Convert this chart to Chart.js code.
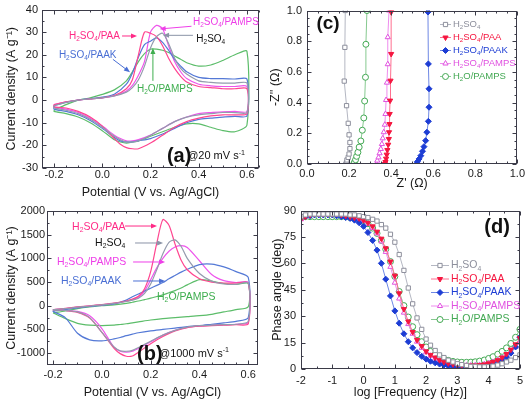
<!DOCTYPE html>
<html>
<head>
<meta charset="utf-8">
<script src="https://cdn.jsdelivr.net/npm/chart.js@4.4.0/dist/chart.umd.min.js"></script>
<style>
  body { margin: 0; background: #fff; }
  canvas { position: absolute; }
</style>
</head>
<body>
<canvas id="cvSlow" width="265" height="200" style="left:0;top:0"></canvas>
<canvas id="nyquist" width="265" height="200" style="left:264px;top:0"></canvas>
<canvas id="cvFast" width="265" height="201" style="left:0;top:200px"></canvas>
<canvas id="bode" width="265" height="201" style="left:264px;top:200px"></canvas>
<script>
// electrolytes, in legend order
const series = ['H_2SO_4', 'H_2SO_4/PAA', 'H_2SO_4/PAAK', 'H_2SO_4/PAMPS', 'H_2O/PAMPS'];
const cvColors = ['#939bad', '#ff4690', '#5479d6', '#ee55ec', '#5cbd6a'];
const markColors = ['#8d8f9c', '#f5163f', '#1d3dd4', '#e052e0', '#43a853'];
const lineColors = ['#b4b7c2', '#ff6f8f', '#6f88e4', '#ee8cee', '#86c98f'];
const markStyles = ['rect', 'triangle', 'rectRot', 'triangle', 'circle'];
const markRotation = [0, 180, 0, 0, 0];
const markFilled = [false, true, true, false, false];

// CV potentials (V vs Ag/AgCl): anodic sweep, then cathodic sweep
const fwdV = [-0.2, -0.15, -0.1, -0.05, 0, 0.05, 0.1, 0.125, 0.15, 0.175, 0.2, 0.225, 0.25, 0.275, 0.3, 0.325, 0.35, 0.4, 0.45, 0.5, 0.55, 0.6];
const revV = [0.6, 0.55, 0.5, 0.45, 0.4, 0.35, 0.3, 0.25, 0.2, 0.15, 0.125, 0.1, 0.075, 0.05, 0, -0.05, -0.1, -0.15, -0.2];

// (a) 20 mV/s, A/g
const aFwdH2so4 = [-2.5, -1, 0, 0.5, 1, 1.8, 3.5, 5.5, 9, 15, 23, 28, 29.5, 25, 18.5, 14, 11.5, 8.5, 7.8, 7.5, 7.5, 7.5];
const aFwdPaa   = [-2, -0.8, 0, 0.5, 1, 2, 5, 9, 20, 30, 29.5, 28, 24, 18.5, 14, 10.5, 8, 6, 5.5, 5, 5, 5];
const aFwdPaak  = [-2.5, -1, 0, 0.6, 1.3, 2.6, 7, 12, 19, 24.5, 26, 27.5, 25.5, 22, 18, 15, 12.5, 10, 9.5, 9.5, 9.3, 9.3];
const aFwdPamps = [-2, -0.8, 0, 0.5, 1, 1.8, 4, 6.5, 11, 17, 30, 33, 31.5, 24, 17, 12.5, 9.5, 7, 6.3, 6, 6, 6];
const aFwdH2o   = [-4.5, -2, 0, 1, 2.5, 4.5, 8.5, 12.5, 17, 20.5, 22.5, 22.5, 22, 21, 19.5, 18, 16.5, 15, 15.5, 17.5, 20, 21.5];
const aRevH2so4 = [-5.5, -5.5, -5.5, -6, -6.5, -7.5, -9.5, -12.5, -15.5, -18, -18.5, -18.5, -17.5, -16, -12, -8.5, -6, -4.5, -3.5];
const aRevPaa   = [-6, -6.5, -6.5, -7, -8, -9.5, -12, -15.5, -19, -21.5, -21.5, -21, -19.5, -17, -11.5, -7.5, -5, -3.5, -3];
const aRevPaak  = [-7, -7.2, -7.5, -8, -8.5, -10, -12.5, -15, -17, -18, -18.5, -18.5, -18, -16.5, -12.5, -9, -6.5, -5, -4];
const aRevPamps = [-5, -5, -5.2, -5.5, -6, -7.5, -9.5, -12.5, -15.5, -17.5, -18, -18, -17, -15.5, -11.5, -8, -5.5, -4, -3];
const aRevH2o   = [-11, -14, -13.5, -12, -10.5, -10.5, -12, -14, -16, -18, -18.5, -19, -18.5, -17.5, -13.5, -10, -7.5, -6, -5];

// (b) 1000 mV/s, A/g
const bFwdH2so4 = [-80, -60, -30, -5, 20, 50, 90, 120, 160, 260, 460, 760, 1100, 1340, 1390, 1250, 1000, 680, 520, 460, 450, 480];
const bFwdPaa   = [-80, -55, -25, 0, 25, 55, 100, 140, 200, 360, 720, 1320, 1820, 1700, 1300, 960, 760, 570, 500, 480, 480, 480];
const bFwdPaak  = [-110, -80, -45, -15, 10, 40, 120, 190, 250, 310, 370, 430, 490, 570, 640, 710, 770, 870, 880, 820, 720, 600];
const bFwdPamps = [-80, -60, -30, -5, 20, 50, 95, 130, 180, 310, 550, 800, 1000, 1150, 1240, 1270, 1230, 950, 660, 530, 490, 490];
const bFwdH2o   = [-150, -110, -60, -25, 0, 20, 50, 75, 100, 130, 160, 195, 230, 275, 320, 375, 440, 550, 520, 470, 450, 470];
const bRevH2so4 = [-330, -390, -400, -410, -420, -450, -520, -620, -750, -880, -940, -960, -950, -870, -560, -250, -130, -100, -90];
const bRevPaa   = [-380, -400, -410, -420, -430, -460, -530, -650, -800, -980, -1060, -1065, -1010, -900, -560, -260, -140, -100, -80];
const bRevPaak  = [-250, -330, -360, -390, -420, -440, -470, -500, -530, -570, -600, -630, -670, -700, -740, -720, -580, -250, -120];
const bRevPamps = [-350, -390, -400, -410, -425, -455, -520, -620, -760, -900, -960, -980, -960, -880, -480, -210, -120, -100, -90];
const bRevH2o   = [-20, -80, -130, -180, -210, -230, -250, -270, -300, -340, -360, -380, -395, -410, -420, -410, -370, -270, -150];

// (c) Nyquist, ohm
const cZreH2so4 = [0.185, 0.188, 0.19, 0.196, 0.2, 0.204, 0.204, 0.2, 0.196, 0.188, 0.177, 0.18, 0.182];
const cZimH2so4 = [0, 0.01, 0.026, 0.043, 0.065, 0.1, 0.14, 0.19, 0.265, 0.38, 0.54, 0.76, 1.0];
const cZrePaa   = [0.37, 0.373, 0.376, 0.379, 0.382, 0.386, 0.389, 0.39, 0.392, 0.393, 0.395, 0.397, 0.4, 0.4];
const cZimPaa   = [0, 0.013, 0.035, 0.061, 0.091, 0.126, 0.163, 0.207, 0.26, 0.326, 0.413, 0.543, 0.717, 0.99];
const cZrePaak  = [0.52, 0.525, 0.533, 0.541, 0.549, 0.556, 0.564, 0.57, 0.577, 0.58, 0.58, 0.577, 0.575];
const cZimPaak  = [0, 0.015, 0.033, 0.054, 0.083, 0.113, 0.152, 0.207, 0.278, 0.37, 0.49, 0.652, 0.99];
const cZrePamps = [0.33, 0.334, 0.34, 0.345, 0.351, 0.356, 0.36, 0.365, 0.37, 0.373, 0.376, 0.38, 0.384, 0.384, 0.39];
const cZimPamps = [0, 0.022, 0.043, 0.07, 0.098, 0.13, 0.167, 0.207, 0.256, 0.326, 0.417, 0.53, 0.65, 0.826, 1.0];
const cZreH2o   = [0.222, 0.226, 0.231, 0.236, 0.242, 0.248, 0.256, 0.263, 0.27, 0.274, 0.278, 0.28, 0.285];
const cZimH2o   = [0, 0.012, 0.028, 0.05, 0.076, 0.11, 0.15, 0.22, 0.3, 0.41, 0.565, 0.78, 1.0];

// (d) Bode phase, deg
const logF = [-2.00, -1.86, -1.71, -1.57, -1.43, -1.29, -1.14, -1.00, -0.86, -0.71, -0.57, -0.43, -0.29, -0.14,
  0.00, 0.14, 0.29, 0.43, 0.57, 0.71, 0.86, 1.00, 1.14, 1.29, 1.43, 1.57, 1.71, 1.86,
  2.00, 2.14, 2.29, 2.43, 2.57, 2.71, 2.86, 3.00, 3.14, 3.29, 3.43, 3.57, 3.71, 3.86,
  4.00, 4.14, 4.29, 4.43, 4.57, 4.71, 4.86, 5.00];
const phH2so4 = [86.5, 87.5, 88, 88, 88, 88, 88, 88, 88, 88, 88, 87.5, 87.5, 87,
  86.5, 86, 85, 84, 82, 80, 76.5, 72, 65, 56, 46, 37, 29, 22.5,
  17, 13.5, 10.5, 8, 6.5, 5, 4, 3, 2.5, 2, 1.5, 1.5, 1.2, 1.2,
  1.3, 1.6, 2.2, 3, 4, 5, 6.5, 8];
const phPaa = [85, 86.5, 87.5, 88, 88, 88, 88, 88, 88, 87.5, 87, 86.5, 86, 85.5,
  84.5, 83, 81, 78, 74, 68.5, 61, 53, 43, 34, 27, 21, 16.5, 13,
  10, 8, 6.5, 5, 4, 3.2, 2.7, 2.3, 2, 2, 2, 2, 2.2, 2.6,
  3.2, 4, 5, 6.5, 8.5, 11, 14, 17.5];
const phPaak = [86, 86.5, 87, 87.5, 87.5, 87.5, 87.5, 87.5, 87, 86.5, 86, 85.5, 84.5, 83,
  81, 77.5, 73, 67.5, 60, 51, 41.5, 33, 26, 20, 15.5, 12, 9.3, 7.2,
  5.6, 4.4, 3.5, 2.8, 2.2, 1.7, 1.3, 1, 0.8, 0.7, 0.7, 0.8, 1, 1.4,
  2, 2.8, 3.8, 5, 6.7, 9, 12.5, 18];
const phPamps = [85, 86.5, 87.5, 88, 88, 88, 88, 88, 88, 87.5, 87, 86.5, 86, 85,
  84, 82.5, 80, 77, 72.5, 66.5, 58, 49, 40, 32, 25.5, 20, 15.5, 12,
  9.5, 7.5, 6, 4.7, 3.8, 3, 2.5, 2.2, 2, 2, 2, 2.1, 2.3, 2.7,
  3.3, 4, 5, 6.3, 8, 10, 12.5, 15];
const phH2o = [86, 86.5, 86.5, 86.5, 86.5, 86.5, 86.5, 86.5, 86.5, 86.5, 86.5, 86, 85.5, 85,
  84, 82.5, 80, 77, 73, 68, 61, 52.5, 44, 36, 29.5, 24, 19.5, 15.5,
  12.5, 10, 8.2, 6.8, 5.7, 4.9, 4.3, 4, 3.8, 3.8, 3.9, 4.1, 4.5, 5.1,
  6, 7, 8.4, 10, 12, 14.5, 18, 22.5];

// tick labels
const cvTicksX = [-0.2, 0, 0.2, 0.4, 0.6];
const aTicksY = [-30, -20, -10, 0, 10, 20, 30, 40];
const bTicksY = [-1000, -500, 0, 500, 1000, 1500, 2000];
const cTicks = [0, 0.2, 0.4, 0.6, 0.8, 1.0];
const dTicksX = [-2, -1, 0, 1, 2, 3, 4, 5];
const dTicksY = [0, 15, 30, 45, 60, 75, 90];

const FONT = '"Liberation Sans", Arial, sans-serif';
Chart.defaults.font.family = FONT;
Chart.defaults.color = '#1a1a1a';
Chart.defaults.animation = false;
Chart.defaults.events = [];
Chart.defaults.plugins.legend.display = false;
Chart.defaults.plugins.tooltip.enabled = false;

function steps(from, to, step) {
  const out = [];
  for (let v = from; v <= to + 1e-9; v += step) out.push(+v.toFixed(4));
  return out;
}

function richText(ctx, str, x, y, size, color, weight) {
  const re = /_(.)|\^\{([^}]*)\}|([^_^]+)/g;
  let m;
  ctx.fillStyle = color;
  ctx.textBaseline = 'middle';
  ctx.textAlign = 'left';
  while ((m = re.exec(str)) !== null) {
    const shift = m[1] !== undefined ? 1 : (m[2] !== undefined ? -1 : 0);
    const text = m[1] || m[2] || m[3];
    const s = shift ? size * 0.65 : size;
    ctx.font = (weight || '') + ' ' + s + 'px ' + FONT;
    ctx.fillText(text, x, y + shift * size * 0.32);
    x += ctx.measureText(text).width;
  }
}

function arrow(ctx, x1, y1, x2, y2, color) {
  const ang = Math.atan2(y2 - y1, x2 - x1), c = Math.cos(ang), s = Math.sin(ang);
  ctx.strokeStyle = color;
  ctx.fillStyle = color;
  ctx.lineWidth = 1;
  ctx.beginPath();
  ctx.moveTo(x1, y1);
  ctx.lineTo(x2 - 4 * c, y2 - 4 * s);
  ctx.stroke();
  ctx.beginPath();
  ctx.moveTo(x2, y2);
  ctx.lineTo(x2 - 6 * c + 2.5 * s, y2 - 6 * s - 2.5 * c);
  ctx.lineTo(x2 - 6 * c - 2.5 * s, y2 - 6 * s + 2.5 * c);
  ctx.closePath();
  ctx.fill();
}

// Origin-style frame: box, inward ticks on all sides, notes and an inner legend
const originFrame = {
  id: 'originFrame',
  afterDraw(chart, args, o) {
    const ctx = chart.ctx, a = chart.chartArea;
    const sx = chart.scales.x, sy = chart.scales.y;
    ctx.save();
    ctx.strokeStyle = '#3b3b48';
    ctx.lineWidth = 1;
    const L = Math.round(a.left) + 0.5, R = Math.round(a.right) - 0.5;
    const T = Math.round(a.top) + 0.5, B = Math.round(a.bottom) - 0.5;
    ctx.strokeRect(L, T, R - L, B - T);
    ctx.beginPath();
    const mark = (vals, len, horiz) => vals.forEach(v => {
      if (horiz) {
        const p = Math.round(sx.getPixelForValue(v)) + 0.5;
        ctx.moveTo(p, B); ctx.lineTo(p, B - len);
        ctx.moveTo(p, T); ctx.lineTo(p, T + len);
      } else {
        const p = Math.round(sy.getPixelForValue(v)) + 0.5;
        ctx.moveTo(L, p); ctx.lineTo(L + len, p);
        ctx.moveTo(R, p); ctx.lineTo(R - len, p);
      }
    });
    mark(o.xMajor, 4, true);
    mark(o.xMinor, 2, true);
    mark(o.yMajor, 4, false);
    mark(o.yMinor, 2, false);
    ctx.stroke();

    (o.notes || []).forEach(n => {
      if (n.arrow) {
        arrow(ctx, sx.getPixelForValue(n.arrow[0]), sy.getPixelForValue(n.arrow[1]),
          sx.getPixelForValue(n.arrow[2]), sy.getPixelForValue(n.arrow[3]), n.arrowColor || n.color);
      }
      richText(ctx, n.text, sx.getPixelForValue(n.x), sy.getPixelForValue(n.y), n.size, n.color, n.weight);
    });

    const lg = o.legend;
    if (lg) {
      chart.data.datasets.forEach((ds, i) => {
        const y = a.top + lg.y + i * lg.dy, x = a.left + lg.x;
        ctx.strokeStyle = ds.borderColor;
        ctx.lineWidth = 1;
        ctx.beginPath();
        ctx.moveTo(x, y); ctx.lineTo(x + lg.w, y);
        ctx.stroke();
        ctx.fillStyle = ds.pointBackgroundColor;
        ctx.strokeStyle = ds.pointBorderColor;
        Chart.helpers.drawPoint(ctx, { pointStyle: ds.pointStyle, rotation: ds.pointRotation, radius: ds.pointRadius, borderWidth: 1 }, x + lg.w / 2, y);
        richText(ctx, ds.label, x + lg.w + 2, y, lg.size, ds.pointBorderColor);
      });
    }
    ctx.restore();
  }
};

function axis(o) {
  return {
    type: 'linear', min: o.min, max: o.max,
    grid: { display: false, drawTicks: false },
    border: { display: false },
    ticks: { font: { size: 11, lineHeight: 1 }, color: '#1a1a1a', padding: o.pad, callback: o.fmt },
    afterBuildTicks: s => { s.ticks = o.ticks.map(v => ({ value: v })); },
    afterFit: s => { if (s.isHorizontal()) s.height = o.size; else s.width = o.size; },
    title: { display: true, text: o.title, font: { size: 12.5 }, color: '#1a1a1a', padding: { top: o.titlePad, bottom: o.titlePad } }
  };
}

function cvDatasets(fwd, rev) {
  return series.map((name, i) => {
    const pts = fwdV.map((v, k) => ({ x: v, y: fwd[i][k] }))
      .concat(revV.map((v, k) => ({ x: v, y: rev[i][k] })));
    pts.push(pts[0]);
    return { label: name, data: pts, showLine: true, borderColor: cvColors[i], borderWidth: 1.2, pointRadius: 0, tension: 0.25 };
  });
}

function markerDatasets(xs, ys) {
  return series.map((name, i) => ({
    label: name,
    data: xs[i].map((x, k) => ({ x: x, y: ys[i][k] })),
    showLine: true, borderColor: lineColors[i], borderWidth: 1,
    pointStyle: markStyles[i], pointRotation: markRotation[i], pointRadius: 3,
    pointBackgroundColor: markFilled[i] ? markColors[i] : '#ffffff',
    pointBorderColor: markColors[i], pointBorderWidth: 1
  }));
}

const f1 = v => v.toFixed(1);
const f0 = v => String(v);

// (a)
new Chart(document.getElementById('cvSlow'), {
  type: 'scatter',
  data: { datasets: cvDatasets([aFwdH2so4, aFwdPaa, aFwdPaak, aFwdPamps, aFwdH2o], [aRevH2so4, aRevPaa, aRevPaak, aRevPamps, aRevH2o]) },
  options: {
    responsive: false,
    layout: { padding: { top: 6, right: 6, left: 0, bottom: 0 } },
    scales: {
      x: axis({ min: -0.25, max: 0.65, ticks: cvTicksX, fmt: f1, size: 32, pad: 1, title: 'Potential (V vs. Ag/AgCl)', titlePad: 0 }),
      y: axis({ min: -30, max: 40, ticks: aTicksY, fmt: f0, size: 42, pad: 4, title: 'Current density (A g\u207B\u00B9)', titlePad: 4 })
    },
    plugins: {
      originFrame: {
        xMajor: cvTicksX, xMinor: steps(-0.25, 0.65, 0.05), yMajor: aTicksY, yMinor: steps(-25, 35, 10),
        notes: [
          { text: 'H_2SO_4/PAMPS', x: 0.376, y: 34.4, size: 10, color: '#ee3fe8', arrow: [0.37, 32.6, 0.238, 31.4] },
          { text: 'H_2SO_4/PAA', x: -0.138, y: 28.3, size: 10, color: '#ff2a86', arrow: [0.082, 28.3, 0.144, 28.3] },
          { text: 'H_2SO_4', x: 0.39, y: 27, size: 10, color: '#111111', arrowColor: '#8a93a6', arrow: [0.376, 28.6, 0.252, 28.6] },
          { text: 'H_2SO_4/PAAK', x: -0.18, y: 19.7, size: 10, color: '#4a6fd4', arrow: [0.044, 18, 0.115, 12.3] },
          { text: 'H_2O/PAMPS', x: 0.144, y: 5, size: 10, color: '#3fae4f', arrow: [0.21, 8.5, 0.21, 23] },
          { text: '(a)', x: 0.268, y: -24.8, size: 20, color: '#111111', weight: 'bold' },
          { text: '@20 mV s^{-1}', x: 0.352, y: -24.8, size: 11, color: '#111111' }
        ]
      }
    }
  },
  plugins: [originFrame]
});

// (b)
new Chart(document.getElementById('cvFast'), {
  type: 'scatter',
  data: { datasets: cvDatasets([bFwdH2so4, bFwdPaa, bFwdPaak, bFwdPamps, bFwdH2o], [bRevH2so4, bRevPaa, bRevPaak, bRevPamps, bRevH2o]) },
  options: {
    responsive: false,
    layout: { padding: { top: 11, right: 7, left: 0, bottom: 0 } },
    scales: {
      x: axis({ min: -0.225, max: 0.64, ticks: cvTicksX, fmt: f1, size: 36, pad: 4, title: 'Potential (V vs. Ag/AgCl)', titlePad: 1 }),
      y: axis({ min: -1250, max: 2000, ticks: bTicksY, fmt: f0, size: 47, pad: 2, title: 'Current density (A g\u207B\u00B9)', titlePad: 4 })
    },
    plugins: {
      originFrame: {
        xMajor: cvTicksX, xMinor: steps(-0.2, 0.6, 0.05), yMajor: bTicksY, yMinor: steps(-750, 1750, 500),
        notes: [
          { text: 'H_2SO_4/PAA', x: -0.122, y: 1662, size: 10.5, color: '#ff2a86', arrow: [0.095, 1683, 0.226, 1683] },
          { text: 'H_2SO_4', x: -0.028, y: 1325, size: 10.5, color: '#111111', arrowColor: '#8a93a6', arrow: [0.136, 1325, 0.251, 1325] },
          { text: 'H_2SO_4/PAMPS', x: -0.184, y: 924, size: 10.5, color: '#ee3fe8', arrow: [0.128, 924, 0.259, 924] },
          { text: 'H_2SO_4/PAAK', x: -0.168, y: 523, size: 10.5, color: '#4a6fd4', arrow: [0.128, 523, 0.259, 523] },
          { text: 'H_2O/PAMPS', x: 0.226, y: 185, size: 10.5, color: '#3fae4f' },
          { text: '(b)', x: 0.144, y: -1018, size: 20, color: '#111111', weight: 'bold' },
          { text: '@1000 mV s^{-1}', x: 0.234, y: -1018, size: 11, color: '#111111' }
        ]
      }
    }
  },
  plugins: [originFrame]
});

// (c)
new Chart(document.getElementById('nyquist'), {
  type: 'scatter',
  data: { datasets: markerDatasets([cZreH2so4, cZrePaa, cZrePaak, cZrePamps, cZreH2o], [cZimH2so4, cZimPaa, cZimPaak, cZimPamps, cZimH2o]) },
  options: {
    responsive: false,
    layout: { padding: { top: 10, right: 8, left: 0, bottom: 0 } },
    scales: {
      x: axis({ min: 0, max: 1, ticks: cTicks, fmt: f1, size: 36, pad: 4, title: "Z' (\u03A9)", titlePad: 9 }),
      y: axis({ min: 0, max: 1, ticks: cTicks, fmt: f1, size: 43, pad: 5, title: "-Z'' (\u03A9)", titlePad: 4 })
    },
    plugins: {
      originFrame: {
        xMajor: cTicks, xMinor: steps(0.05, 0.95, 0.05), yMajor: cTicks, yMinor: steps(0.05, 0.95, 0.05),
        notes: [{ text: '(c)', x: 0.045, y: 0.915, size: 19, color: '#111111', weight: 'bold' }],
        legend: { x: 133, y: 14, dy: 13, w: 11, size: 9.5 }
      }
    }
  },
  plugins: [originFrame]
});

// (d)
new Chart(document.getElementById('bode'), {
  type: 'scatter',
  data: { datasets: markerDatasets(series.map(() => logF), [phH2so4, phPaa, phPaak, phPamps, phH2o]) },
  options: {
    responsive: false,
    layout: { padding: { top: 8, right: 7, left: 0, bottom: 0 } },
    scales: {
      x: axis({ min: -2, max: 5, ticks: dTicksX, fmt: f0, size: 32, pad: 6, title: 'log [Frequency (Hz)]', titlePad: 1 }),
      y: axis({ min: 0, max: 90, ticks: dTicksY, fmt: f0, size: 37, pad: 5, title: 'Phase angle (deg)', titlePad: 6 })
    },
    plugins: {
      originFrame: {
        xMajor: dTicksX, xMinor: steps(-1.5, 4.5, 1), yMajor: dTicksY, yMinor: steps(7.5, 82.5, 15),
        notes: [{ text: '(d)', x: 3.86, y: 80.5, size: 20, color: '#111111', weight: 'bold' }],
        legend: { x: 130, y: 55, dy: 13.5, w: 18, size: 10.5 }
      }
    }
  },
  plugins: [originFrame]
});
</script>
</body>
</html>
